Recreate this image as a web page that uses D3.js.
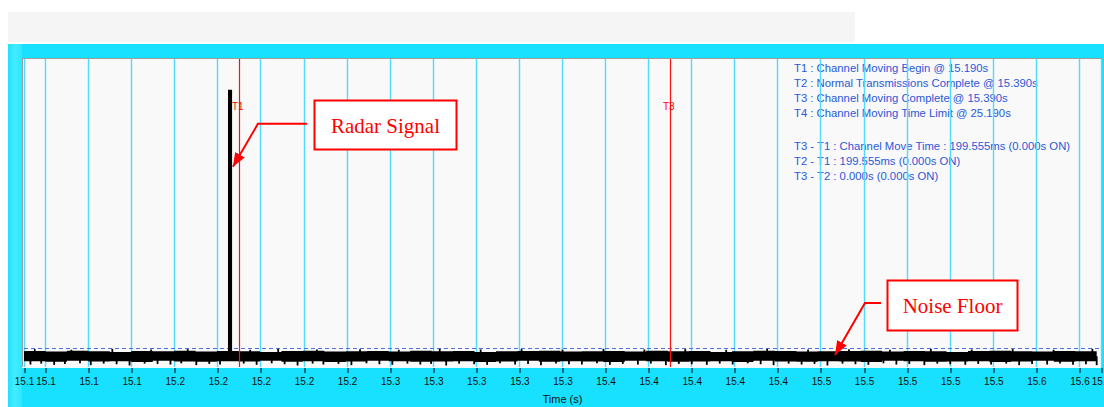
<!DOCTYPE html>
<html>
<head>
<meta charset="utf-8">
<script src="https://cdn.jsdelivr.net/npm/d3@7"></script>
<style>
  body { margin: 0; background: #fff; }
  svg { display: block; font-family: Arial, "Liberation Sans", sans-serif; }
</style>
</head>
<body>
<svg id="chart" width="1104" height="407"></svg>
<script>
// ---- data ----
const xDomain = [15.09, 15.59];          // time (s)
const yDomain = [-100, 0];               // level (dB)
const tickValues = [15.09, 15.10, 15.12, 15.14, 15.16, 15.18, 15.20, 15.22, 15.24, 15.26,
  15.28, 15.30, 15.32, 15.34, 15.36, 15.38, 15.40, 15.42, 15.44, 15.46,
  15.48, 15.50, 15.52, 15.54, 15.56, 15.58, 15.59];

const noiseStart = 15.09, noiseStep = 0.00996;
const noiseHi = [
  -94.8,-95.0,-94.7,-94.9,-95.1,-94.8,-94.9,-94.7,-95.0,-94.8,
  -94.9,-95.1,-94.8,-94.7,-95.0,-94.9,-94.8,-95.0,-94.7,-94.9,
  -94.8,-95.1,-94.9,-94.8,-94.7,-95.0,-94.9,-94.8,-95.0,-94.7,
  -94.9,-94.8,-95.1,-94.9,-94.7,-94.8,-95.0,-94.9,-94.8,-94.7,
  -95.0,-94.8,-94.9,-95.1,-94.8,-94.7,-94.9,-95.0,-94.8,-94.9,
  -94.8];
const noiseLo = [
  -98.1,-98.3,-98.0,-98.2,-98.1,-98.4,-98.0,-98.2,-98.3,-98.1,
  -98.2,-98.0,-98.3,-98.1,-98.4,-98.2,-98.0,-98.1,-98.3,-98.2,
  -98.1,-98.4,-98.2,-98.0,-98.3,-98.1,-98.2,-98.4,-98.0,-98.1,
  -98.3,-98.2,-98.1,-98.4,-98.0,-98.2,-98.3,-98.1,-98.2,-98.4,
  -98.0,-98.1,-98.3,-98.2,-98.1,-98.4,-98.2,-98.0,-98.3,-98.1,
  -98.2];
// short excursions out of the noise band [time, level]
const noiseSpikes = [
  [15.093,-99.2],[15.095,-94.2],[15.098,-98.9],[15.104,-99.3],[15.109,-99.0],[15.112,-94.4],
  [15.116,-98.8],[15.121,-99.4],[15.127,-98.9],[15.131,-94.1],[15.133,-99.1],[15.139,-99.5],
  [15.146,-98.9],[15.149,-94.3],[15.152,-99.0],[15.158,-99.2],[15.163,-98.8],[15.166,-94.2],
  [15.170,-99.4],[15.176,-99.0],[15.181,-99.2],[15.192,-98.9],[15.195,-94.4],[15.198,-99.3],
  [15.205,-98.8],[15.208,-94.1],[15.211,-99.1],[15.217,-99.5],[15.224,-98.9],[15.226,-94.3],
  [15.229,-99.2],[15.236,-99.0],[15.242,-99.4],[15.246,-94.2],[15.249,-98.8],[15.255,-99.1],
  [15.261,-99.3],[15.264,-94.4],[15.268,-98.9],[15.274,-99.2],[15.279,-99.0],[15.283,-94.1],
  [15.286,-99.5],[15.292,-98.9],[15.299,-99.1],[15.302,-94.3],[15.305,-99.3],[15.311,-98.8],
  [15.318,-99.2],[15.321,-94.2],[15.324,-99.0],[15.330,-99.4],[15.337,-98.9],[15.340,-94.4],
  [15.343,-99.1],[15.349,-99.2],[15.356,-98.8],[15.359,-94.1],[15.362,-99.3],[15.368,-99.0],
  [15.375,-99.2],[15.378,-94.3],[15.381,-98.9],[15.388,-99.4],[15.394,-99.0],[15.397,-94.2],
  [15.400,-99.1],[15.407,-99.3],[15.413,-98.9],[15.416,-94.4],[15.419,-99.2],[15.426,-98.8],
  [15.432,-99.1],[15.435,-94.1],[15.438,-99.4],[15.445,-98.9],[15.451,-99.2],[15.454,-94.3],
  [15.457,-99.0],[15.463,-99.5],[15.470,-98.9],[15.473,-94.2],[15.476,-99.1],[15.482,-99.3],
  [15.489,-98.8],[15.492,-94.4],[15.495,-99.2],[15.501,-99.0],[15.508,-99.4],[15.511,-94.1],
  [15.514,-98.9],[15.520,-99.1],[15.527,-99.3],[15.530,-94.3],[15.533,-99.0],[15.539,-99.2],
  [15.546,-98.9],[15.549,-94.2],[15.552,-99.4],[15.558,-99.0],[15.565,-99.2],[15.568,-94.4],
  [15.571,-98.9],[15.577,-99.3],[15.583,-99.1],[15.586,-94.1],[15.588,-99.4]];

const pulseTimes = [15.1847, 15.1866];   // radar burst
const pulsePeak = -10;
const threshold = -93.8;

const markerTimes = [15.190, 15.390];
const markerLabels = ["T1", "T3"];

const eventNotes = [
  "T1 : Channel Moving Begin @ 15.190s",
  "T2 : Normal Transmissions Complete @ 15.390s",
  "T3 : Channel Moving Complete @ 15.390s",
  "T4 : Channel Moving Time Limit @ 25.190s"];
const deltaNotes = [
  "T3 - T1 : Channel Move Time : 199.555ms (0.000s ON)",
  "T2 - T1 : 199.555ms (0.000s ON)",
  "T3 - T2 : 0.000s (0.000s ON)"];

const calloutLabels = ["Radar Signal", "Noise Floor"];
const calloutTimes = [15.187, 15.4665];
const calloutLevels = [-35, -96.1];

// ---- layout ----
const svg = d3.select("#chart");
const plot = { left: 24, right: 1101, top: 59, bottom: 367 };
const x = d3.scaleLinear().domain(xDomain).range([plot.left, plot.right]);
const y = d3.scaleLinear().domain(yDomain).range([plot.bottom, plot.top]);
const px = v => Math.floor(x(v)) + 0.5;

// offsets of callout pieces from the arrow tip (pixels)
const calloutLayout = [
  { elbow: [25, -43], lead: [74, -43], box: [81, -67, 142, 49] },
  { elbow: [30, -52], lead: [46, -52], box: [52, -75, 130, 50] }
];

// frame
const defs = svg.append("defs");
const grad = defs.append("linearGradient").attr("id", "edge");
grad.append("stop").attr("offset", "0%").attr("stop-color", "#22e2fe");
grad.append("stop").attr("offset", "50%").attr("stop-color", "#44ecff");
grad.append("stop").attr("offset", "100%").attr("stop-color", "#2ae6ff");

defs.append("marker")
  .attr("id", "arrow")
  .attr("markerUnits", "userSpaceOnUse")
  .attr("viewBox", "0 0 14 11")
  .attr("refX", 14).attr("refY", 5.5)
  .attr("markerWidth", 14).attr("markerHeight", 11)
  .attr("orient", "auto")
  .append("path").attr("d", "M0,0 L14,5.5 L0,11 Z").attr("fill", "#ff0000");

svg.append("rect").attr("x", 8).attr("y", 12).attr("width", 847).attr("height", 30).attr("fill", "#f5f5f5");
svg.append("rect").attr("x", 8).attr("y", 44).attr("width", 1096).attr("height", 363).attr("fill", "#18e0ff");
svg.append("rect").attr("x", 8).attr("y", 44).attr("width", 14).attr("height", 363).attr("fill", "url(#edge)");

svg.append("rect")
  .attr("x", 22).attr("y", plot.top - 1)
  .attr("width", plot.right - 22).attr("height", plot.bottom - plot.top + 1)
  .attr("fill", "#f9f9f9");
svg.append("line").attr("x1", 22).attr("x2", plot.right).attr("y1", plot.top - 0.5).attr("y2", plot.top - 0.5)
  .attr("stroke", "#9c9c9c");
svg.append("line").attr("x1", 22.5).attr("x2", 22.5).attr("y1", plot.top - 1).attr("y2", plot.bottom + 1)
  .attr("stroke", "#9c9c9c");
svg.append("line").attr("x1", 22).attr("x2", plot.right).attr("y1", plot.bottom + 0.5).attr("y2", plot.bottom + 0.5)
  .attr("stroke", "#e8fbff");

// legend text (grid is drawn over it, like the original)
const legend = svg.append("g").attr("font-size", 11.3).attr("fill", "#2a58d8");
eventNotes.forEach((s, i) => legend.append("text").attr("x", 794).attr("y", 72 + i * 15).text(s));
deltaNotes.forEach((s, i) => legend.append("text").attr("x", 794).attr("y", 150 + i * 15).text(s));

// grid
svg.append("g").selectAll("line").data(tickValues).join("line")
  .attr("x1", d => px(d)).attr("x2", d => px(d))
  .attr("y1", plot.top).attr("y2", plot.bottom)
  .attr("stroke", "#52dbfa").attr("stroke-width", 1.4);

// threshold
svg.append("line")
  .attr("x1", plot.left).attr("x2", plot.right)
  .attr("y1", Math.round(y(threshold)) + 0.5).attr("y2", Math.round(y(threshold)) + 0.5)
  .attr("stroke", "#4f70e4").attr("stroke-dasharray", "4,3");

// noise band
const noise = noiseHi.map((h, i) => ({ t: noiseStart + i * noiseStep, hi: h, lo: noiseLo[i] }));
svg.append("path").datum(noise)
  .attr("fill", "#000")
  .attr("d", d3.area().curve(d3.curveStepAfter)
    .x(d => x(d.t)).y0(d => y(d.lo)).y1(d => y(d.hi)));

svg.append("g").selectAll("line").data(noiseSpikes).join("line")
  .attr("x1", d => x(d[0])).attr("x2", d => x(d[0]))
  .attr("y1", y(-96.5)).attr("y2", d => y(d[1]))
  .attr("stroke", "#000").attr("stroke-width", 1.8);

// radar pulse
svg.append("path").datum(pulseTimes)
  .attr("fill", "#000")
  .attr("d", d3.area().x(d => x(d)).y0(y(-97)).y1(y(pulsePeak)));

// event markers
const mk = svg.append("g");
mk.selectAll("line").data(markerTimes).join("line")
  .attr("x1", d => px(d)).attr("x2", d => px(d))
  .attr("y1", plot.top).attr("y2", plot.bottom)
  .attr("stroke", "#ff1010").attr("stroke-width", 1.2);
mk.selectAll("text").data(markerTimes).join("text")
  .attr("x", d => px(d) - 7.5).attr("y", plot.top + 51)
  .attr("font-size", 10).attr("fill", "#ff0000")
  .text((d, i) => markerLabels[i]);

// x axis
const axis = svg.append("g")
  .attr("transform", `translate(0,${plot.bottom + 1})`)
  .call(d3.axisBottom(x).tickValues(tickValues).tickFormat(d3.format(".1f")).tickSize(5).tickPadding(5));
axis.select(".domain").remove();
axis.selectAll(".tick line").attr("stroke", "#000").attr("transform", d => `translate(${px(d) - x(d)},0)`);
axis.selectAll("text").attr("font-family", "Arial, 'Liberation Sans', sans-serif").attr("font-size", 10).attr("fill", "#111");

svg.append("text")
  .attr("x", (plot.left + plot.right) / 2).attr("y", 403)
  .attr("text-anchor", "middle").attr("font-size", 11).attr("fill", "#111")
  .text("Time (s)");

// callouts
calloutLabels.forEach((label, i) => {
  const tx = x(calloutTimes[i]), ty = y(calloutLevels[i]);
  const L = calloutLayout[i];
  svg.append("path")
    .attr("d", d3.line()([[tx + L.lead[0], ty + L.lead[1]], [tx + L.elbow[0], ty + L.elbow[1]], [tx, ty]]))
    .attr("fill", "none").attr("stroke", "#ff0000").attr("stroke-width", 2)
    .attr("marker-end", "url(#arrow)");
  const [bx, by, bw, bh] = L.box;
  svg.append("rect")
    .attr("x", Math.round(tx + bx) + 0.5).attr("y", Math.round(ty + by) + 0.5)
    .attr("width", bw).attr("height", bh)
    .attr("fill", "#fff").attr("stroke", "#ff0000").attr("stroke-width", 2);
  svg.append("text")
    .attr("x", Math.round(tx + bx) + bw / 2 + 0.5).attr("y", Math.round(ty + by) + 33)
    .attr("text-anchor", "middle")
    .attr("font-family", "'Liberation Serif', 'Times New Roman', serif")
    .attr("font-size", 21).attr("fill", "#ff0000")
    .text(label);
});
</script>
</body>
</html>
